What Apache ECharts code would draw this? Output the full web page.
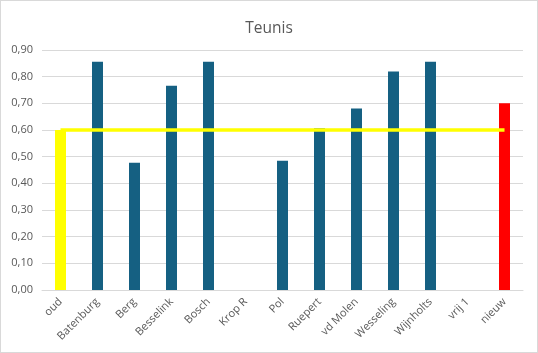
<!DOCTYPE html>
<html>
<head>
<meta charset="utf-8">
<script src="https://cdn.jsdelivr.net/npm/echarts@6/dist/echarts.min.js"></script>
<style>
  html, body { margin: 0; padding: 0; background: #fff; }
  #chart { width: 536px; height: 351px; border: 1px solid #d9d9d9; }
</style>
</head>
<body>
<div id="chart"></div>
<script>
// categorieen en waarden
var categories = ['oud', 'Batenburg', 'Berg', 'Besselink', 'Bosch', 'Krop R', 'Pol', 'Ruepert', 'vd Molen', 'Wesseling', 'Wijnholts', 'vrij 1', 'nieuw'];
var scores = [0.60, 0.856, 0.477, 0.766, 0.856, null, 0.485, 0.607, 0.681, 0.819, 0.856, null, 0.70];
var norm = [0.60, 0.60, 0.60, 0.60, 0.60, 0.60, 0.60, 0.60, 0.60, 0.60, 0.60, 0.60, 0.60];
var barColors = ['#ffff00', '#156082', '#156082', '#156082', '#156082', '#156082', '#156082', '#156082', '#156082', '#156082', '#156082', '#156082', '#ff0000'];

var chart = echarts.init(document.getElementById('chart'));
var option = {
  animation: false,
  title: {
    text: 'Teunis',
    left: 'center',
    top: 15,
    textStyle: { fontFamily: 'Open Sans', fontSize: 15.5, fontWeight: 'normal', color: '#595959' }
  },
  grid: { left: 41, right: 14, top: 49, bottom: 62 },
  xAxis: {
    type: 'category',
    data: categories,
    axisLine: { lineStyle: { color: '#d9d9d9' } },
    axisTick: { show: false },
    axisLabel: {
      rotate: 45,
      interval: 0,
      margin: 10,
      color: '#595959',
      fontFamily: 'Open Sans',
      fontSize: 11
    }
  },
  yAxis: {
    type: 'value',
    min: 0,
    max: 0.9,
    interval: 0.1,
    axisLine: { show: false },
    axisTick: { show: false },
    splitLine: { lineStyle: { color: '#d9d9d9' } },
    axisLabel: {
      color: '#595959',
      fontFamily: 'Open Sans',
      fontSize: 11,
      margin: 9,
      formatter: function (v) { return v.toFixed(2).replace('.', ','); }
    }
  },
  series: [
    {
      type: 'bar',
      barWidth: 11,
      data: scores,
      itemStyle: {
        color: function (p) { return barColors[p.dataIndex]; }
      }
    },
    {
      type: 'line',
      data: norm,
      symbol: 'none',
      lineStyle: { color: '#ffff00', width: 3.5 }
    }
  ]
};
chart.setOption(option);
</script>
</body>
</html>
